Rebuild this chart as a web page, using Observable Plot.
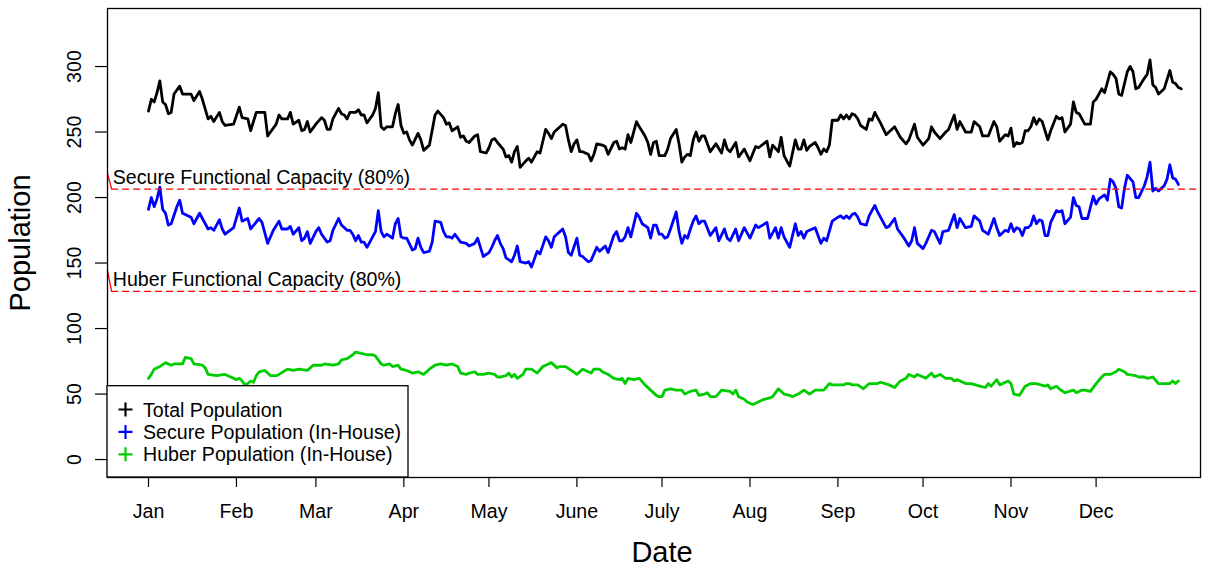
<!DOCTYPE html>
<html><head><meta charset="utf-8">
<script src="https://cdn.jsdelivr.net/npm/d3@7"></script>
<script src="https://cdn.jsdelivr.net/npm/@observablehq/plot@0.6"></script>
<style>html,body{margin:0;padding:0;background:#fff}svg{display:block}</style>
</head><body><div id="chart"></div>
<script>
// ---- data (day of year, value) ----
const seriesNames = ["Total Population", "Secure Population (In-House)", "Huber Population (In-House)"];
const seriesColors = ["#000000", "#0000FF", "#00CD00"];

const totalDays = [0,1,2,3,4,5,6,7,8,9,11,12,15,16,18,19,21,22,23,25,26,27,30,32,33,35,36,38,41,42,45,46,47,49,50,51,53,54,55,56,57,59,61,62,63,64,65,67,68,69,70,71,73,74,75,76,77,79,80,81,82,83,84,86,87,88,89,90,91,92,93,95,96,97,99,101,102,104,105,106,107,109,110,111,112,113,115,116,117,119,120,121,122,123,125,126,127,128,129,130,131,133,134,135,137,138,140,141,142,143,144,146,147,148,149,150,151,152,153,155,156,157,158,160,161,162,164,165,166,167,168,169,170,172,173,175,176,177,178,179,180,182,183,184,186,187,188,189,190,191,192,193,194,195,196,198,200,202,203,204,205,207,208,210,212,214,215,218,219,220,222,223,224,226,228,229,230,231,232,233,235,236,237,238,239,240,241,243,244,245,246,247,248,249,250,251,253,254,255,256,257,258,260,261,263,265,267,268,270,271,273,275,276,277,279,281,282,284,285,286,288,290,291,293,294,296,298,299,300,302,303,304,305,306,307,308,309,310,311,312,313,314,315,317,318,320,321,322,323,325,326,327,328,330,332,333,334,336,337,339,340,341,342,343,345,346,347,348,349,351,352,353,354,355,356,357,358,360,361,362,363,364];
const totalValues = [266,275,273,280,289,273,271,264,265,279,285,279,279,274,281,275,260,262,258,265,258,255,256,269,261,260,251,265,265,247,256,263,260,260,265,256,259,251,252,258,250,256,261,259,252,252,260,268,264,263,260,265,265,267,263,263,257,263,268,280,254,252,254,254,264,271,255,249,250,244,240,249,244,236,240,263,266,261,256,257,251,254,246,247,243,242,247,248,235,234,238,244,245,242,237,231,232,227,235,239,223,228,230,227,235,234,252,249,245,250,252,256,255,244,235,241,244,235,235,233,228,233,241,240,239,233,242,243,237,238,237,248,242,258,254,247,242,233,242,243,232,232,237,245,252,241,227,231,233,232,244,250,243,247,247,235,241,234,244,237,235,242,231,237,228,239,238,243,231,240,235,246,232,224,244,237,237,244,236,239,242,238,233,237,235,240,259,259,263,260,263,260,264,263,260,255,252,260,259,265,261,257,248,250,254,246,241,244,256,246,240,245,254,250,245,250,252,263,252,258,250,250,258,254,247,247,258,254,243,248,247,253,239,242,241,242,251,251,254,261,256,260,258,244,251,262,260,261,250,256,273,265,264,256,256,273,275,283,280,296,294,291,279,278,296,300,296,283,284,291,294,305,286,284,279,281,283,297,288,287,284,283];

const secureDays = [0,1,2,3,4,5,6,7,8,10,11,12,15,16,18,19,21,22,23,25,26,27,30,32,33,35,36,39,40,42,44,46,47,49,50,51,53,54,55,56,57,59,60,61,63,64,65,67,68,70,71,72,73,74,75,76,77,79,80,81,82,83,84,86,87,88,89,90,91,93,94,95,96,97,99,100,101,103,104,105,106,107,108,110,112,113,115,116,117,118,120,121,122,123,124,125,126,128,129,130,131,133,134,135,136,137,138,140,141,142,143,145,146,147,148,149,151,152,153,155,156,158,159,160,161,162,164,165,166,167,168,169,170,172,173,174,176,177,178,179,180,181,182,183,184,186,187,188,189,190,191,192,193,194,195,196,198,200,201,203,204,205,207,208,210,212,214,215,218,219,221,222,223,224,226,228,229,230,231,232,235,237,238,239,241,243,244,245,246,247,248,249,250,251,253,254,256,257,258,260,261,263,264,266,268,269,270,271,273,274,276,277,279,280,282,284,285,286,288,290,291,293,294,296,298,299,300,302,303,304,305,306,307,308,309,310,311,312,313,314,315,316,317,318,320,321,322,323,325,326,327,328,329,331,333,334,335,337,338,339,340,341,342,343,344,345,347,348,349,351,352,353,354,355,356,357,358,359,360,361,362,363];
const secureValues = [191,200,193,199,208,191,188,179,180,193,198,188,185,180,188,184,176,177,175,183,176,172,177,192,182,184,176,184,181,165,175,182,176,176,178,172,177,167,169,174,165,174,177,172,166,167,175,184,179,175,175,172,167,171,166,166,162,170,174,190,174,170,172,169,180,184,170,169,169,160,161,169,162,158,159,166,182,181,174,170,170,169,172,166,165,163,165,169,162,155,158,162,167,171,165,161,154,151,156,163,151,150,151,147,153,159,157,170,167,162,170,174,176,170,158,156,169,156,155,151,152,162,159,161,163,158,171,174,167,167,170,177,170,188,185,180,177,169,179,179,172,172,169,170,176,189,174,165,171,169,176,182,186,180,182,182,171,177,167,176,169,167,176,167,177,169,179,177,181,169,177,169,177,170,162,180,171,174,169,174,177,165,169,167,182,185,186,184,186,184,187,188,185,180,179,186,194,189,185,177,178,184,176,170,163,167,177,165,161,165,175,174,165,174,175,187,177,184,177,178,186,182,175,172,184,177,171,175,174,180,174,177,176,171,177,177,179,186,180,183,182,171,171,181,190,189,190,180,185,200,194,193,184,184,201,195,199,202,198,214,212,207,193,192,207,217,212,200,200,209,216,227,205,207,205,207,209,214,225,215,214,210];

const huberDays = [0,1,2,4,6,8,9,12,13,15,16,19,20,21,24,27,29,31,32,33,34,35,36,37,38,39,41,42,43,45,46,49,51,53,56,58,61,62,65,67,68,70,72,73,75,77,79,80,82,83,85,86,88,89,91,93,95,97,99,101,103,105,107,109,110,112,113,115,116,118,120,122,123,124,126,127,128,129,130,132,133,135,137,139,141,142,144,145,147,149,151,153,154,156,157,159,160,162,164,166,167,168,169,171,173,175,177,179,180,181,182,184,186,188,189,191,193,194,196,197,198,200,202,205,206,207,208,210,211,213,214,216,217,219,220,222,224,226,227,229,231,233,235,238,240,241,245,246,247,248,250,252,254,257,258,261,263,265,267,268,270,271,274,276,277,279,281,283,284,285,288,290,293,295,296,297,299,300,303,304,305,307,309,311,313,316,317,318,320,321,323,326,327,329,330,332,334,336,337,339,341,342,344,345,348,349,351,352,354,356,358,360,361,362,363];
const huberValues = [62,65,69,71,74,72,73,73,78,77,73,72,70,65,64,65,63,61,62,60,57,58,60,59,64,67,68,66,64,64,65,69,68,69,68,72,72,73,72,73,76,77,80,82,81,80,80,79,73,72,73,71,72,69,68,66,67,65,69,72,73,72,73,71,66,65,66,67,65,65,66,65,63,63,64,66,63,65,62,65,69,69,66,71,73,74,70,71,71,68,65,69,68,66,69,69,67,65,62,61,62,58,62,61,62,57,53,49,48,48,53,54,53,53,50,52,53,49,50,51,48,48,53,52,50,53,48,46,44,42,43,45,46,47,48,54,50,49,48,50,53,50,53,53,58,57,57,58,58,57,57,54,58,58,59,57,55,60,62,65,63,65,62,66,63,65,62,62,60,61,58,58,56,55,58,56,61,57,60,58,50,49,56,58,58,56,57,54,56,54,51,53,51,53,53,52,58,63,65,65,67,69,67,65,64,63,63,62,63,58,58,58,60,58,60];

const capacityLabels = ["Secure Functional Capacity (80%)", "Huber Functional Capacity (80%)"];
const capacityValues = [206.4, 128.4];
const capacityPrevious = [218.5, 144.3];

const monthLabels = ["Jan","Feb","Mar","Apr","May","June","July","Aug","Sep","Oct","Nov","Dec"];
const yTicks = [0, 50, 100, 150, 200, 250, 300];

// ---- helpers ----
const YEAR = 2019;
const base = Date.UTC(YEAR, 0, 1);
const dayToDate = d => new Date(base + d * 864e5);
const toRows = (days, vals) => days.map((d, i) => ({date: dayToDate(d), value: vals[i]}));
const series = [toRows(totalDays, totalValues), toRows(secureDays, secureValues), toRows(huberDays, huberValues)];
const monthStarts = monthLabels.map((_, i) => new Date(Date.UTC(YEAR, i, 1)));
const xDomain = [dayToDate(-14.45), dayToDate(370.8)];
const capStart = dayToDate(-13);
const capData = capacityLabels.map((label, i) => ({label, value: capacityValues[i], prev: capacityPrevious[i]}));

const FS = 19.6;
const chart = Plot.plot({
  width: 1217, height: 567,
  marginLeft: 107, marginRight: 17, marginTop: 8, marginBottom: 90,
  style: {fontFamily: "'Liberation Sans', Arial, sans-serif", fontSize: FS + "px", background: "#fff", color: "#000"},
  x: {type: "utc", domain: xDomain},
  y: {domain: [-13.7, 344.3]},
  marks: [
    Plot.axisX({ticks: monthStarts, tickFormat: d => monthLabels[d.getUTCMonth()], tickSize: 10, tickPadding: 17, strokeWidth: 1.2, fontSize: FS, label: null}),
    Plot.axisY({ticks: yTicks, tickSize: 12, tickPadding: 15, tickRotate: -90, strokeWidth: 1.2, fontSize: FS, label: null}),
    ...series.map((rows, i) => Plot.line(rows, {x: "date", y: "value", stroke: seriesColors[i], strokeWidth: 2.8})),
    Plot.link(capData, {x1: () => xDomain[0], y1: "prev", x2: () => capStart, y2: "value", stroke: "#FF0000", strokeWidth: 1.3, clip: true}),
    Plot.ruleY(capData, {y: "value", x1: () => capStart, x2: () => xDomain[1], stroke: "#FF0000", strokeWidth: 1.3, strokeDasharray: "7,4"}),
    Plot.text(capData, {y: "value", text: "label", frameAnchor: "left", dx: 5.3, dy: -5.5, textAnchor: "start", lineAnchor: "bottom", fontSize: FS, fill: "#000"}),
    Plot.text(["Date"], {frameAnchor: "bottom", dx: 8, dy: 75, textAnchor: "middle", lineAnchor: "middle", fontSize: 29, fill: "#000"}),
    Plot.text(["Population"], {frameAnchor: "left", dx: -87, rotate: -90, textAnchor: "middle", lineAnchor: "middle", fontSize: 29, fill: "#000"}),
    Plot.frame({stroke: "#000", strokeWidth: 1.3})
  ]
});
document.getElementById("chart").appendChild(chart);

// ---- legend (inside plot, bottom-left) ----
const svg = d3.select(chart);
const lg = svg.append("g").attr("font-family", "'Liberation Sans', Arial, sans-serif").attr("font-size", FS).attr("text-anchor", "start");
lg.append("rect").attr("x", 107).attr("y", 385.7).attr("width", 301).attr("height", 91.3)
  .attr("fill", "#fff").attr("stroke", "#000").attr("stroke-width", 1.3);
seriesNames.forEach((name, i) => {
  const cy = 409.5 + i * 22.4;
  const cx = 125.5;
  lg.append("path").attr("d", `M${cx - 7},${cy}H${cx + 7}M${cx},${cy - 7}V${cy + 7}`)
    .attr("stroke", seriesColors[i]).attr("stroke-width", 2.2).attr("fill", "none");
  lg.append("text").attr("x", 143).attr("y", cy + 7).attr("text-anchor", "start").attr("fill", "#000").text(name);
});
</script>
</body></html>
